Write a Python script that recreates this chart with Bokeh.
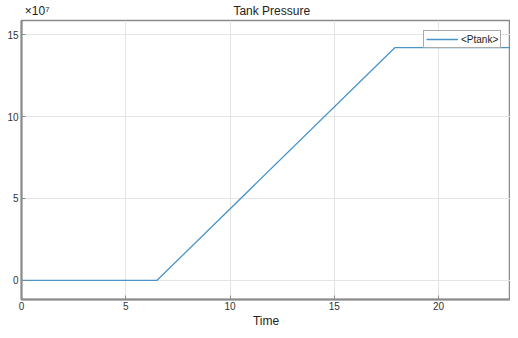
from bokeh.plotting import figure
from bokeh.models import (Range1d, CustomJSTickFormatter, FixedTicker, Legend, LegendItem,
                          LinearAxis)
from bokeh.embed import file_html
from bokeh.resources import INLINE

# Data
time = [0, 6.5, 17.9, 24.0]
ptank = [0.0, 0.0, 14.2e7, 14.2e7]
x_ticks = [0, 5, 10, 15, 20]
y_ticks = [0, 5e7, 10e7, 15e7]
title_text = "Tank Pressure"
exponent_text = "\u00d710\u2077"

p = figure(width=510, height=330, output_backend="svg", toolbar_location=None,
           x_range=Range1d(0, 23.45), y_range=Range1d(-1.17e7, 15.86e7),
           min_border_left=21, min_border_right=0, min_border_top=20, min_border_bottom=0)

r = p.line(time, ptank, line_color="#4a94c8", line_width=1.3)

axis_color = "#8a8a8a"
for ax in (p.xaxis[0], p.yaxis[0]):
    ax.axis_line_color = axis_color
    ax.axis_line_width = 2
    ax.major_tick_in = 4
    ax.major_tick_out = 0
    ax.minor_tick_line_color = None
    ax.major_tick_line_color = axis_color
    ax.major_label_text_font = "Liberation Sans"
    ax.major_label_text_font_size = "10px"
    ax.major_label_text_color = "#333333"
    ax.major_label_standoff = 3

p.xaxis.ticker = FixedTicker(ticks=x_ticks)
p.yaxis.ticker = FixedTicker(ticks=y_ticks)
p.yaxis.formatter = CustomJSTickFormatter(code="return (tick/1e7).toFixed(0);")
p.xaxis.axis_label = "Time"
p.xaxis.axis_label_text_font = "Liberation Sans"
p.xaxis.axis_label_text_font_size = "12px"
p.xaxis.axis_label_text_font_style = "normal"
p.xaxis.axis_label_text_color = "#222222"
p.xaxis.axis_label_standoff = 1
p.xaxis.major_label_standoff = 2

# top strip: exponent marker (left) and title (centred over the plot)
top = LinearAxis(ticker=FixedTicker(ticks=[0.75, 12.0]),
                 formatter=CustomJSTickFormatter(
                     args=dict(t=title_text, e=exponent_text),
                     code="return tick < 5 ? e : t;"))
top.axis_line_color = None
top.major_tick_line_color = None
top.minor_tick_line_color = None
top.major_tick_out = 0
top.major_tick_in = 0
top.major_label_standoff = 3
top.major_label_text_font = "Liberation Sans"
top.major_label_text_font_size = "12px"
top.major_label_text_color = "#222222"
p.add_layout(top, "above")

p.outline_line_color = axis_color
p.outline_line_width = 1.5

p.xgrid.grid_line_color = "#e4e4e4"
p.ygrid.grid_line_color = "#e4e4e4"

legend = Legend(items=[LegendItem(label="<Ptank>", renderers=[r])], location=(402, 251))
legend.label_text_font = "Liberation Sans"
legend.label_text_font_size = "10px"
legend.label_text_color = "#222222"
legend.glyph_width = 32
legend.glyph_height = 12
legend.label_height = 12
legend.label_standoff = 3
legend.padding = 2
legend.margin = 0
legend.spacing = 0
legend.border_line_color = "#555555"
legend.border_line_width = 1
legend.background_fill_alpha = 1
p.add_layout(legend)

open("out.html", "w").write(file_html(p, INLINE))
